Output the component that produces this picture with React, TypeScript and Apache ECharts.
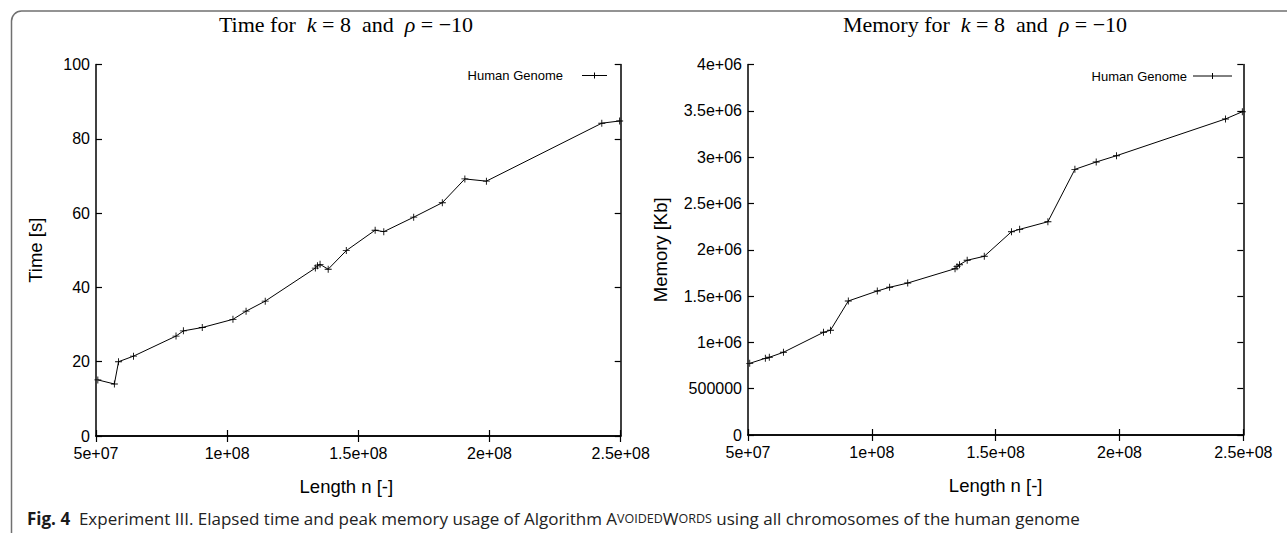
import React, { useEffect, useRef } from "react";
import * as echarts from "echarts";

// Chromosome lengths (x) shared by both panels
const lengths = [
  5.07e7, 5.7e7, 5.86e7, 6.43e7, 8.05e7, 8.33e7, 9.05e7, 1.022e8, 1.072e8, 1.145e8,
  1.336e8, 1.344e8, 1.354e8, 1.385e8, 1.454e8, 1.564e8, 1.597e8, 1.711e8, 1.82e8,
  1.906e8, 1.988e8, 2.428e8, 2.496e8,
];
const timeSeconds = [
  15.1, 14.0, 20.0, 21.5, 26.9, 28.3, 29.2, 31.4, 33.6, 36.3, 45.2, 45.8, 46.2, 44.9,
  49.9, 55.4, 55.0, 58.9, 62.8, 69.2, 68.6, 84.2, 84.8,
];
const memoryKb = [
  774000, 828000, 839000, 893000, 1109000, 1131000, 1447000, 1555000, 1595000, 1641000,
  1796000, 1818000, 1839000, 1887000, 1930000, 2195000, 2221000, 2303000, 2869000,
  2948000, 3016000, 3413000, 3491000,
];
const lengthTicks = ["5e+07", "1e+08", "1.5e+08", "2e+08", "2.5e+08"];
const timeTicks = ["0", "20", "40", "60", "80", "100"];
const memoryTicks = ["0", "500000", "1e+06", "1.5e+06", "2e+06", "2.5e+06", "3e+06", "3.5e+06", "4e+06"];
const seriesName = "Human Genome";

const SANS = "'Liberation Sans', Arial, Helvetica, sans-serif";
const SERIF = "'Liberation Serif', 'Times New Roman', serif";
const CAPTION = "'Open Sans', 'Noto Sans', sans-serif";

const PLUS = "path://M0,3.5H8V4.5H0Z M3.5,0H4.5V8H3.5Z";

function pickLabel(labels: string[], min: number, step: number) {
  return (v: number) => labels[Math.round((v - min) / step)] ?? "";
}

export default function App() {
  const ref = useRef<HTMLDivElement>(null);
  useEffect(() => {
    document.body.style.margin = "0";
    if (!ref.current) return;
    const chart = echarts.init(ref.current, undefined, { renderer: "svg" });

    const axisLine = { show: true, lineStyle: { color: "#000", width: 1.5 } };
    const tick = { show: true, inside: true, length: 6, lineStyle: { color: "#000", width: 1.2 } };
    const lbl = { color: "#000", fontSize: 16, fontFamily: SANS };

    const xCommon = (grid: number) => ({
      type: "value" as const,
      gridIndex: grid,
      min: 5e7,
      max: 2.5e8,
      interval: 5e7,
      splitLine: { show: false },
      axisLine,
      axisTick: tick,
    });

    const lenFmt = pickLabel(lengthTicks, 5e7, 5e7);
    const timeFmt = pickLabel(timeTicks, 0, 20);
    const memFmt = pickLabel(memoryTicks, 0, 500000);

    const pairsTime = lengths.map((x, i) => [x, timeSeconds[i]]);
    const pairsMem = lengths.map((x, i) => [x, memoryKb[i]]);

    const titleRich = {
      n: { fontFamily: SERIF, fontSize: 22, fontWeight: "normal", color: "#000" },
      i: { fontFamily: SERIF, fontSize: 22, fontWeight: "normal", fontStyle: "italic", color: "#000" },
    };

    const legend = (xText: number, xLine0: number, xLine1: number, y: number) => [
      {
        type: "text",
        x: xText,
        y,
        style: { text: seriesName, fontSize: 13, fontFamily: SANS, fill: "#000", textAlign: "right", textVerticalAlign: "middle" },
      },
      { type: "line", shape: { x1: xLine0, y1: y, x2: xLine1, y2: y }, style: { stroke: "#000", lineWidth: 1 } },
      {
        type: "line",
        shape: { x1: (xLine0 + xLine1) / 2, y1: y - 3, x2: (xLine0 + xLine1) / 2, y2: y + 3 },
        style: { stroke: "#000", lineWidth: 1 },
      },
    ];

    const nameStyle = { fontSize: 18.5, fontFamily: SANS, color: "#000" };

    const option: any = {
      animation: false,
      backgroundColor: "#fff",
      title: [
        {
          text: "{n|Time for  }{i|k}{n| = 8  and  }{i|ρ}{n| = −10}",
          left: 341,
          top: 8,
          textAlign: "center",
          textStyle: { rich: titleRich },
        },
        {
          text: "{n|Memory for  }{i|k}{n| = 8  and  }{i|ρ}{n| = −10}",
          left: 980,
          top: 8,
          textAlign: "center",
          textStyle: { rich: titleRich },
        },
      ],
      grid: [
        { left: 96, top: 64.5, width: 524.7, height: 371.5 },
        { left: 748, top: 64.6, width: 495.3, height: 370.4 },
      ],
      xAxis: [
        {
          ...xCommon(0),
          position: "bottom",
          name: "Length n [-]",
          nameLocation: "middle",
          nameGap: 41,
          nameTextStyle: { ...nameStyle, padding: [0, 24, 0, 0] },
          axisLabel: { ...lbl, margin: 9, formatter: lenFmt },
        },
        { ...xCommon(0), position: "top", axisLabel: { show: false } },
        {
          ...xCommon(1),
          position: "bottom",
          name: "Length n [-]",
          nameLocation: "middle",
          nameGap: 41,
          nameTextStyle: nameStyle,
          axisLabel: { ...lbl, margin: 9, formatter: lenFmt },
        },
        { ...xCommon(1), position: "top", axisLabel: { show: false } },
      ],
      yAxis: [
        {
          type: "value",
          gridIndex: 0,
          min: 0,
          max: 100,
          interval: 20,
          position: "left",
          name: "Time [s]",
          nameLocation: "middle",
          nameGap: 51,
          nameTextStyle: nameStyle,
          splitLine: { show: false },
          axisLine,
          axisTick: tick,
          axisLabel: { ...lbl, margin: 6, formatter: timeFmt },
        },
        {
          type: "value",
          gridIndex: 0,
          min: 0,
          max: 100,
          interval: 20,
          position: "right",
          splitLine: { show: false },
          axisLine,
          axisTick: tick,
          axisLabel: { show: false },
        },
        {
          type: "value",
          gridIndex: 1,
          min: 0,
          max: 4e6,
          interval: 500000,
          position: "left",
          name: "Memory [Kb]",
          nameLocation: "middle",
          nameGap: 78,
          nameTextStyle: nameStyle,
          splitLine: { show: false },
          axisLine,
          axisTick: tick,
          axisLabel: { ...lbl, margin: 6, formatter: memFmt },
        },
        {
          type: "value",
          gridIndex: 1,
          min: 0,
          max: 4e6,
          interval: 500000,
          position: "right",
          splitLine: { show: false },
          axisLine,
          axisTick: tick,
          axisLabel: { show: false },
        },
      ],
      series: [
        {
          name: seriesName,
          type: "line",
          xAxisIndex: 0,
          yAxisIndex: 0,
          data: pairsTime,
          symbol: PLUS,
          symbolSize: 7,
          showAllSymbol: true,
          itemStyle: { color: "#000" },
          lineStyle: { color: "#000", width: 1 },
        },
        {
          name: seriesName,
          type: "line",
          xAxisIndex: 2,
          yAxisIndex: 2,
          data: pairsMem,
          symbol: PLUS,
          symbolSize: 7,
          showAllSymbol: true,
          itemStyle: { color: "#000" },
          lineStyle: { color: "#000", width: 1 },
        },
      ],
      graphic: [
        {
          type: "rect",
          shape: { x: 11.5, y: 11, width: 1400, height: 700, r: 10 },
          style: { fill: "none", stroke: "#707070", lineWidth: 1.5 },
          silent: true,
        },
        ...legend(563, 582, 607, 75.5),
        ...legend(1187, 1193, 1232, 76),
        {
          type: "text",
          x: 27,
          y: 518,
          style: {
            text: "{b|Fig. 4}{n|  Experiment III. Elapsed time and peak memory usage of Algorithm }{n|A}{s|VOIDED}{n|W}{s|ORDS}{n| using all chromosomes of the human genome}",
            textVerticalAlign: "middle",
            rich: {
              b: { fontFamily: CAPTION, fontSize: 17, fontWeight: "bold", fill: "#1a1a1a" },
              n: { fontFamily: CAPTION, fontSize: 17, fill: "#222" },
              s: { fontFamily: CAPTION, fontSize: 12.5, fill: "#222" },
            },
          },
        },
      ],
    };

    chart.setOption(option);
    return () => chart.dispose();
  }, []);

  return <div ref={ref} style={{ width: 1287, height: 533 }} />;
}
